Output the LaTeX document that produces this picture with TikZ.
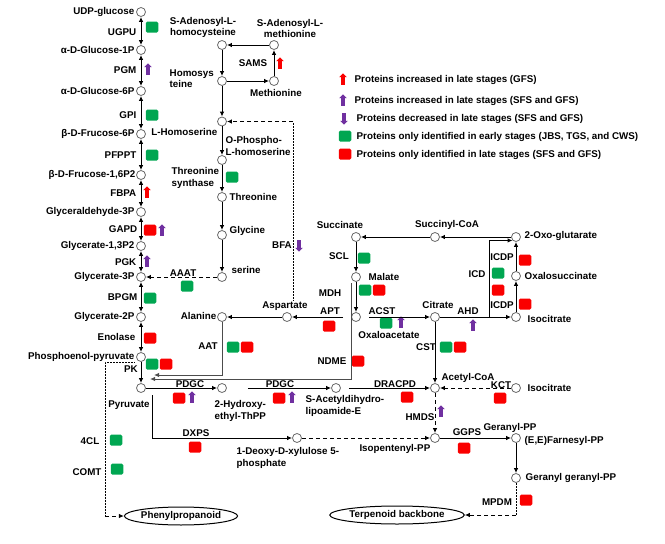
\documentclass[tikz,border=0pt]{standalone}
\usepackage{fontspec}
\setmainfont{Liberation Sans}
\usetikzlibrary{arrows,arrows.meta,shapes.geometric,shapes.arrows,positioning}
\definecolor{pgreen}{RGB}{0,166,81}
\definecolor{pred}{RGB}{250,0,0}
\definecolor{ppurple}{RGB}{112,48,160}
\definecolor{cgray}{RGB}{105,105,105}

\tikzset{
  met/.style={circle, draw=cgray, line width=0.8pt, fill=white, minimum size=9pt, inner sep=0pt},
  lbl/.style={font=\fontsize{9.8}{11.5}\selectfont\bfseries, inner sep=0.5pt},
  arr/.style={line width=1pt, -{Latex[length=5pt,width=4.5pt]}},
  dbl/.style={line width=1pt, {Latex[length=5pt,width=4.5pt]}-{Latex[length=5pt,width=4.5pt]}},
  rline/.style={draw=black!70},
  dasharr/.style={line width=1pt, dash pattern=on 4pt off 3pt, -{Latex[length=5pt,width=4.5pt]}},
  dotline/.style={line width=0.5pt, densely dotted},
  gbox/.style={rectangle, rounded corners=1.5pt, fill=pgreen, minimum width=12.5pt, minimum height=11pt, inner sep=0pt},
  rbox/.style={gbox, fill=pred},
  upmark/.style={single arrow, draw=none, shape border rotate=90, inner sep=1.6pt, minimum height=11.5pt, single arrow head extend=2pt},
  upR/.style={upmark, fill=pred},
  upP/.style={upmark, fill=ppurple},
  dnP/.style={upmark, fill=ppurple, shape border rotate=270},
  oval/.style={ellipse, draw=black, line width=1pt, font=\fontsize{9.8}{11.5}\selectfont\bfseries, minimum width=97pt, minimum height=18pt, inner sep=0pt}
}

\begin{document}
\begin{tikzpicture}[x=1pt,y=-1pt]
\useasboundingbox (0,0) rectangle (665,544);

% glycolysis
\node [met] (udp) at (141,12) {};
\node [lbl, anchor=east] (tudp) at (135,12) {UDP-glucose};
\node [met] (g1p) at (141,50) {};
\node [lbl, anchor=east] (tg1p) at (135,50) {α-D-Glucose-1P};
\node [met] (g6p) at (141,91) {};
\node [lbl, anchor=east] (tg6p) at (135,91) {α-D-Glucose-6P};
\node [met] (f6p) at (141,134) {};
\node [lbl, anchor=east] (tf6p) at (135,134) {β-D-Frucose-6P};
\node [met] (fbp) at (141,175) {};
\node [lbl, anchor=east] (tfbp) at (136,175) {β-D-Frucose-1,6P2};
\node [met] (gap) at (141,212) {};
\node [lbl, anchor=east] (tgap) at (135,212) {Glyceraldehyde-3P};
\node [met] (bpg) at (141,246) {};
\node [lbl, anchor=east] (tbpg) at (135,246) {Glycerate-1,3P2};
\node [met] (pga) at (141,277) {};
\node [lbl, anchor=east] (tpga) at (135,277) {Glycerate-3P};
\node [met] (pg2) at (141,317) {};
\node [lbl, anchor=east] (tpg2) at (135,317) {Glycerate-2P};
\node [met] (pep) at (141,357) {};
\node [lbl, anchor=east] (tpep) at (135,357) {Phosphoenol-pyruvate};
\node [met] (pyr) at (141,388) {};
\node [lbl] (tpyr) at (129,405) {Pyruvate};

\node [lbl, anchor=east] (ugpu) at (137,32) {UGPU};
\node [lbl, anchor=east] (pgm) at (137,70) {PGM};
\node [lbl, anchor=east] (gpi) at (137,115) {GPI};
\node [lbl, anchor=east] (pfppt) at (137,155) {PFPPT};
\node [lbl, anchor=east] (fbpa) at (137,193) {FBPA};
\node [lbl, anchor=east] (gapd) at (138,229) {GAPD};
\node [lbl, anchor=east] (pgk) at (137,262) {PGK};
\node [lbl, anchor=east] (bpgm) at (138,297) {BPGM};
\node [lbl, anchor=east] (eno) at (136,337) {Enolase};
\node [lbl] (pk) at (131,369) {PK};

\node [gbox] (mUgpu) at (152,27) {};
\node [upP] (mPgm) at (148,70) {};
\node [gbox] (mGpi) at (152,115) {};
\node [gbox] (mPfppt) at (152,155) {};
\node [upR] (mFbpa) at (147,193) {};
\node [rbox] (mGapdR) at (150,230) {};
\node [upP] (mGapdP) at (162,231) {};
\node [upP] (mPgk) at (147,262) {};
\node [gbox] (mBpgm) at (150,298) {};
\node [rbox] (mEno) at (150,338) {};
\node [gbox] (mPkG) at (152,364) {};
\node [rbox] (mPkR) at (166,364) {};

\draw [dbl] (udp) -- (g1p);
\draw [dbl] (g1p) -- (g6p);
\draw [dbl] (g6p) -- (f6p);
\draw [dbl] (f6p) -- (fbp);
\draw [dbl] (fbp) -- (gap);
\draw [dbl] (gap) -- (bpg);
\draw [dbl] (bpg) -- (pga);
\draw [dbl] (pga) -- (pg2);
\draw [dbl] (pg2) -- (pep);
\draw [arr] (pep) -- (pyr);

% methionine and threonine
\node [met] (sah) at (222,45) {};
\node [lbl, align=center] (tsah) at (203,27.5) {S-Adenosyl-L-\\homocysteine};
\node [met] (sam) at (274,45) {};
\node [lbl, align=center] (tsam) at (290,28.5) {S-Adenosyl-L-\\methionine};
\node [met] (hcy) at (222,81) {};
\node [lbl, align=left, anchor=west] (thcy) at (169,78.5) {Homosys\\teine};
\node [met] (meth) at (274,81) {};
\node [lbl] (tmeth) at (276,93) {Methionine};
\node [lbl] (sams) at (253,63) {SAMS};
\node [upR] (mSams) at (280,64) {};
\node [met] (lhs) at (222,121.5) {};
\node [lbl, anchor=east] (tlhs) at (218,132) {L-Homoserine};
\node [met] (ophs) at (222,160) {};
\node [lbl, align=left, anchor=west] (tophs) at (225,146) {O-Phospho-\\L-homoserine};
\node [met] (thr) at (222,197) {};
\node [lbl, anchor=west] (tthr) at (229,197) {Threonine};
\node [lbl, align=left, anchor=west] (thrs) at (171,178) {Threonine\\synthase};
\node [gbox] (mThrs) at (232,177) {};
\node [met] (gly) at (222,235) {};
\node [lbl, anchor=west] (tgly) at (229,231) {Glycine};
\node [met] (ser) at (222,277) {};
\node [lbl, anchor=west] (tser) at (231,270) {serine};
\node [lbl] (aaat) at (183,273) {AAAT};
\node [gbox] (mAaat) at (187,286) {};

\draw [arr] (sam) -- (sah);
\draw [arr] (sah) -- (hcy);
\draw [arr] (hcy) -- (meth);
\draw [arr] (meth) -- (sam);
\draw [arr] (hcy) -- (lhs);
\draw [arr] (lhs) -- (ophs);
\draw [arr] (ophs) -- (thr);
\draw [arr] (thr) -- (gly);
\draw [arr] (gly) -- (ser);
\draw [dasharr] (ser) -- (pga);

% aspartate back to homoserine
\coordinate (bfaB) at (293,300);
\coordinate (bfaT) at (293,121.5);
\draw [dotline] (bfaB) -- (bfaT);
\draw [dasharr] (bfaT) -- (lhs);
\node [lbl] (bfa) at (282,245) {BFA};
\node [dnP] (mBfa) at (299,245) {};

% TCA cycle
\node [met] (suc) at (356,237) {};
\node [lbl] (tsuc) at (340,225) {Succinate};
\node [met] (sca) at (435,237) {};
\node [lbl] (tsca) at (447,225) {Succinyl-CoA};
\node [met] (oxg) at (516,237) {};
\node [lbl, anchor=west] (toxg) at (524,236) {2-Oxo-glutarate};
\node [met] (oxs) at (516,276) {};
\node [lbl, anchor=west] (toxs) at (524,276) {Oxalosuccinate};
\node [met] (icit) at (516,317) {};
\node [lbl, anchor=west] (ticit) at (527,319) {Isocitrate};
\node [met] (cit) at (435,317) {};
\node [lbl] (tcit) at (438,305) {Citrate};
\node [met] (mal) at (356,277) {};
\node [lbl, anchor=west] (tmal) at (368,277) {Malate};
\node [met] (oaa) at (356,317) {};
\node [lbl] (toaa) at (389,335) {Oxaloacetate};
\node [met] (asp) at (287,317) {};
\node [lbl] (tasp) at (285,306) {Aspartate};
\node [met] (ala) at (222,317) {};
\node [lbl, anchor=east] (tala) at (217,316) {Alanine};

\node [lbl] (scl) at (339,256) {SCL};
\node [gbox] (mScl) at (364,258) {};
\node [lbl] (mdh) at (330,293) {MDH};
\node [gbox] (mMalG) at (365,290) {};
\node [rbox] (mMalR) at (379,290) {};
\node [lbl] (apt) at (330,311) {APT};
\node [rbox] (mApt) at (329,326) {};
\node [lbl] (acst) at (382,311) {ACST};
\node [gbox] (mAcst) at (386,323) {};
\node [upP] (mAcstP) at (401,323) {};
\node [lbl] (ahd) at (468,311) {AHD};
\node [upP] (mAhd) at (473,326) {};
\node [lbl] (icd) at (477,274) {ICD};
\node [gbox] (mIcdG) at (498,273) {};
\node [rbox] (mIcdR) at (498,290) {};
\node [lbl] (icdpA) at (502,257) {ICDP};
\node [rbox] (mIcdpA) at (525,260) {};
\node [lbl] (icdpB) at (502,305) {ICDP};
\node [rbox] (mIcdpB) at (525,304) {};
\node [lbl] (cst) at (426,347) {CST};
\node [gbox] (mCstG) at (446,347) {};
\node [rbox] (mCstR) at (460,347) {};
\node [lbl] (ndme) at (332,361) {NDME};
\node [rbox] (mNdme) at (358,361) {};
\node [lbl] (aat) at (208,346) {AAT};
\node [gbox] (mAatG) at (233,347) {};
\node [rbox] (mAatR) at (247,347) {};

\draw [arr] (sca) -- (suc);
\draw [arr] (suc) -- (mal);
\draw [arr] (mal) -- (oaa);
\draw [arr, shorten <=8pt] (oaa) -- (asp);
\draw [arr] (asp) -- (ala);
\draw [arr, shorten <=8pt] (oaa) -- (cit);
\draw [arr] (cit) -- (icit);
\coordinate (icdB) at (489,317);
\draw [arr] (icdB) |- (oxg.south west);
\draw [arr] (oxg) -- (sca);
\draw [arr] (oxs) -- (oxg);
\draw [arr] (icit) -- (oxs);

% back to pyruvate
\coordinate (aatEnd) at (154,375);
\draw [arr, rline] (ala) |- (aatEnd);
\coordinate (ndmeTop) at (351,283);
\coordinate (ndmeEnd) at (150,379);
\draw [arr, rline] (ndmeTop) |- (ndmeEnd);

% pyruvate to terpenoids
\node [met] (hyd) at (222,388) {};
\node [lbl, align=left, anchor=west] (thyd) at (214,411) {2-Hydroxy-\\ethyl-ThPP};
\node [met] (sacl) at (336,388) {};
\node [lbl, align=left, anchor=west] (tsacl) at (305,406) {S-Acetyldihydro-\\lipoamide-E};
\node [met] (acoa) at (435,388) {};
\node [lbl] (tacoa) at (468,378) {Acetyl-CoA};
\node [met] (icitB) at (516,388) {};
\node [lbl, anchor=west] (ticitB) at (527,388) {Isocitrate};
\node [met] (ipp) at (435,438) {};
\node [lbl, anchor=east] (tipp) at (431,449) {Isopentenyl-PP};
\node [met] (dxp) at (297,438) {};
\node [lbl, align=left, anchor=west] (tdxp) at (236,458) {1-Deoxy-D-xylulose 5-\\phosphate};
\node [met] (gpp) at (516,438) {};
\node [lbl] (tgpp) at (510,428) {Geranyl-PP};
\node [lbl, anchor=west] (tfpp) at (524,441) {(E,E)Farnesyl-PP};
\node [met] (ggpp) at (516,478) {};
\node [lbl, anchor=west] (tggpp) at (525,478) {Geranyl geranyl-PP};
\node [oval] (phen) at (181,516) {Phenylpropanoid};
\node [oval, minimum width=114pt] (terp) at (397,515) {Terpenoid backbone};

\node [lbl, anchor=base] (pdgcA) at (190,387.5) {PDGC};
\node [rbox] (mPdgcAR) at (179,398) {};
\node [upP] (mPdgcAP) at (192,398) {};
\node [lbl, anchor=base] (pdgcB) at (280,387.5) {PDGC};
\node [rbox] (mPdgcBR) at (279,398) {};
\node [upP] (mPdgcBP) at (292,398) {};
\node [lbl, anchor=base] (dracpd) at (395,387) {DRACPD};
\node [rbox] (mDracpd) at (407,397) {};
\node [lbl, anchor=base] (kct) at (501,388) {KCT};
\node [rbox] (mKct) at (500,398) {};
\node [lbl] (hmds) at (420,417) {HMDS};
\node [upP] (mHmds) at (441,412) {};
\node [lbl] (ggps) at (467,432) {GGPS};
\node [rbox] (mGgps) at (464,448) {};
\node [lbl] (dxps) at (196,433) {DXPS};
\node [rbox] (mDxps) at (195,447) {};
\node [lbl] (mpdm) at (497,502) {MPDM};
\node [rbox] (mMpdm) at (526,500) {};
\node [lbl] (fcl) at (90,441) {4CL};
\node [gbox] (mFcl) at (116,440) {};
\node [lbl] (comt) at (87,472) {COMT};
\node [gbox] (mComt) at (117,469) {};

\draw [arr] (pyr) -- (hyd);
\draw [arr, shorten <=21pt] (hyd) -- (sacl);
\draw [arr, shorten <=8pt] (sacl) -- (acoa);
\draw [arr] (cit) -- (acoa);
\draw [dasharr] (icitB) -- (acoa);
\draw [dasharr] (acoa) -- (ipp);
\coordinate (dxpsTop) at (152,395);
\draw [arr] (dxpsTop) |- (dxp);
\draw [dasharr] (dxp) -- (ipp);
\draw [arr] (ipp) -- (gpp);
\draw [arr] (gpp) -- (ggpp);
\coordinate (mpdmC) at (516,515);
\draw [dotline] (ggpp) -- (mpdmC);
\draw [dasharr] (mpdmC) -- (terp);
\coordinate (phA) at (134,362);
\coordinate (phB) at (105,362);
\coordinate (phC) at (105,516);
\draw [dotline] (phA) -- (phB) -- (phC);
\draw [dasharr] (phC) -- (phen);

% legend
\node [upR] (lgA) at (343,80) {};
\node [lbl, anchor=west] (tlgA) at (354,80) {Proteins increased in late stages (GFS)};
\node [upP] (lgB) at (343,101) {};
\node [lbl, anchor=west] (tlgB) at (354,101) {Proteins increased in late stages (SFS and GFS)};
\node [dnP] (lgC) at (344,118) {};
\node [lbl, anchor=west] (tlgC) at (356,119) {Proteins decreased in late stages (SFS and GFS)};
\node [gbox] (lgD) at (345,136) {};
\node [lbl, anchor=west] (tlgD) at (356,137) {Proteins only identified in early stages (JBS, TGS, and CWS)};
\node [rbox] (lgE) at (345,154) {};
\node [lbl, anchor=west] (tlgE) at (356,155) {Proteins only identified in late stages (SFS and GFS)};
\end{tikzpicture}
\end{document}
